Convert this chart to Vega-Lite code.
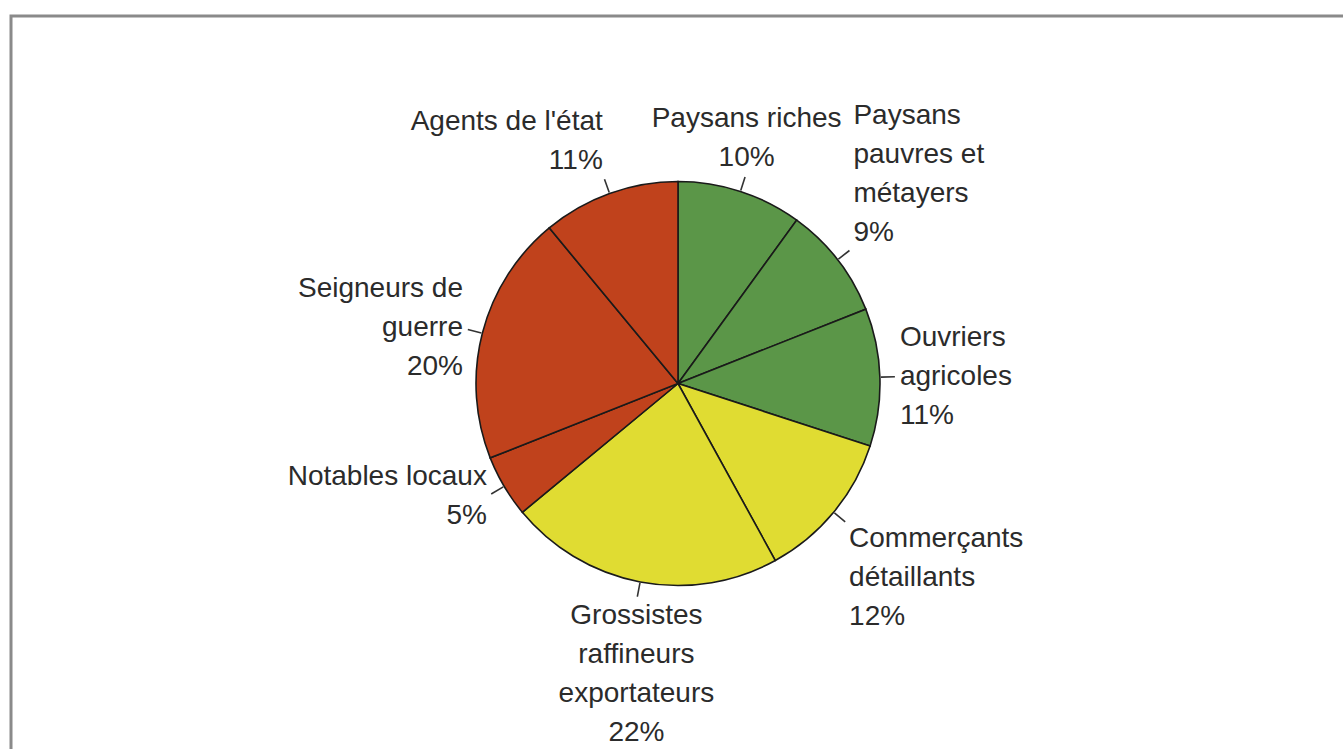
{
  "$schema": "https://vega.github.io/schema/vega-lite/v6.json",
  "width": 1343,
  "height": 749,
  "autosize": {"type": "fit", "contains": "padding"},
  "padding": {"left": 11, "top": 16, "right": -2, "bottom": -2},
  "background": "white",
  "view": {"stroke": "#8a8a8a", "strokeWidth": 3},
  "config": {"view": {"stroke": "#8a8a8a", "strokeWidth": 3}},
  "data": {
    "values": [
      {"rang": 1, "categorie": "Paysans riches", "secteur": "agriculture", "part": 10, "etiquette": "Paysans riches\n10%"},
      {"rang": 2, "categorie": "Paysans pauvres et métayers", "secteur": "agriculture", "part": 9, "etiquette": "Paysans\npauvres et\nmétayers\n9%"},
      {"rang": 3, "categorie": "Ouvriers agricoles", "secteur": "agriculture", "part": 11, "etiquette": "Ouvriers\nagricoles\n11%"},
      {"rang": 4, "categorie": "Commerçants détaillants", "secteur": "commerce", "part": 12, "etiquette": "Commerçants\ndétaillants\n12%"},
      {"rang": 5, "categorie": "Grossistes raffineurs exportateurs", "secteur": "commerce", "part": 22, "etiquette": "Grossistes\nraffineurs\nexportateurs\n22%"},
      {"rang": 6, "categorie": "Notables locaux", "secteur": "pouvoir", "part": 5, "etiquette": "Notables locaux\n5%"},
      {"rang": 7, "categorie": "Seigneurs de guerre", "secteur": "pouvoir", "part": 20, "etiquette": "Seigneurs de\nguerre\n20%"},
      {"rang": 8, "categorie": "Agents de l'état", "secteur": "pouvoir", "part": 11, "etiquette": "Agents de l'état\n11%"}
    ]
  },
  "encoding": {
    "theta": {"field": "part", "type": "quantitative", "stack": true},
    "order": {"field": "rang", "type": "quantitative"}
  },
  "layer": [
    {
      "mark": {"type": "arc", "outerRadius": 202, "stroke": "#1a1a1a", "strokeWidth": 1.6},
      "encoding": {
        "color": {
          "field": "secteur",
          "type": "nominal",
          "scale": {"domain": ["agriculture", "commerce", "pouvoir"], "range": ["#5b9648", "#e0dc32", "#c0421c"]},
          "legend": null
        }
      }
    },
    {
      "mark": {"type": "arc", "outerRadius": 217, "innerRadius": 203, "padAngle": 3, "filled": false, "stroke": "#333333", "strokeWidth": 1.6},
      "encoding": {}
    },
    {
      "mark": {
        "type": "text",
        "radius": 222,
        "font": "Liberation Sans",
        "fontSize": 28,
        "lineHeight": 39,
        "lineBreak": "\n",
        "color": "#2b2b2b",
        "align": {"expr": "(datum.part_start + datum.part_end) / 2 < 7.5 || abs((datum.part_start + datum.part_end) / 2 - 50) < 5 ? 'center' : ((datum.part_start + datum.part_end) / 2 < 50 ? 'left' : 'right')"},
        "baseline": {"expr": "abs((datum.part_start + datum.part_end) / 2 - 50) > 35 ? 'bottom' : (abs((datum.part_start + datum.part_end) / 2 - 50) < 15 ? 'top' : 'middle')"},
        "dy": {"expr": "(abs((datum.part_start + datum.part_end) / 2 - 50) > 35 ? -1 : (abs((datum.part_start + datum.part_end) / 2 - 50) < 15 ? 0 : -0.5)) * (length(split(datum.etiquette, '\\n')) - 1) * 39"}
      },
      "encoding": {"text": {"field": "etiquette", "type": "nominal"}}
    }
  ]
}
